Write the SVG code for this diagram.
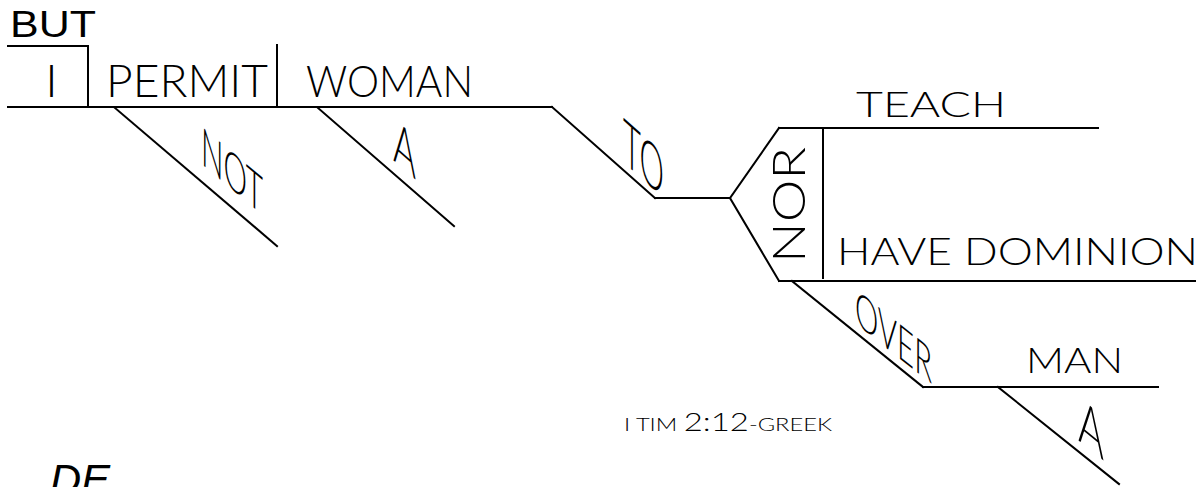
<svg xmlns="http://www.w3.org/2000/svg" width="1204" height="487" viewBox="0 0 1204 487">
<style>
.w{font-family:"Lato","Open Sans","Liberation Sans",sans-serif;font-weight:300;fill:#000}
.a{font-family:"Liberation Sans",Arial,sans-serif;font-weight:400;fill:#000}
.ln line{stroke:#000;stroke-width:2;stroke-linecap:square}
</style>
<rect width="1204" height="487" fill="#fff"/>
<g id="connectors" class="ln">
<line x1="8" y1="107" x2="552" y2="107"/>
<line x1="8" y1="46" x2="88" y2="46"/>
<line x1="88" y1="46" x2="88" y2="107"/>
<line x1="277" y1="45" x2="277" y2="107"/>
<line x1="115" y1="108" x2="277" y2="246"/>
<line x1="318" y1="108" x2="454" y2="226"/>
<line x1="552" y1="107" x2="655" y2="198"/>
<line x1="655" y1="198" x2="730" y2="198"/>
<line x1="730" y1="198" x2="779" y2="128"/>
<line x1="779" y1="128" x2="1098" y2="128"/>
<line x1="730" y1="198" x2="779" y2="281"/>
<line x1="779" y1="281" x2="1195" y2="281"/>
<line x1="823" y1="128" x2="823" y2="278"/>
<line x1="792" y1="281" x2="923" y2="387"/>
<line x1="923" y1="387" x2="1158" y2="387"/>
<line x1="998" y1="387" x2="1119" y2="484"/>
</g>
<g id="but"><text class="a" x="10" y="37" font-size="37" textLength="86" lengthAdjust="spacingAndGlyphs">BUT</text></g>
<g id="i"><text class="w" x="45" y="97" font-size="45" textLength="13" lengthAdjust="spacingAndGlyphs">I</text></g>
<g id="permit"><text class="w" x="106" y="97" font-size="45" textLength="162" lengthAdjust="spacingAndGlyphs">PERMIT</text></g>
<g id="woman"><text class="w" x="306" y="97" font-size="44" textLength="167" lengthAdjust="spacingAndGlyphs">WOMAN</text></g>
<g id="not" transform="translate(201,163.5) skewY(40)"><text class="w" x="0" y="0" font-size="53" textLength="62" lengthAdjust="spacingAndGlyphs">NOT</text></g>
<g id="a1" transform="translate(393,160) skewY(41)"><text class="w" x="0" y="0" font-size="60" textLength="23" lengthAdjust="spacingAndGlyphs">A</text></g>
<g id="to" transform="translate(623,162) skewY(41.5)"><text class="w" x="0" y="0" font-size="63" textLength="41" lengthAdjust="spacingAndGlyphs">TO</text></g>
<g id="nor" transform="translate(805,263) rotate(-90)"><text class="w" x="0" y="0" font-size="46" textLength="116" lengthAdjust="spacingAndGlyphs">NOR</text></g>
<g id="teach"><text class="w" x="856" y="117" font-size="35" textLength="150" lengthAdjust="spacingAndGlyphs">TEACH</text></g>
<g id="have-dominion"><text class="w" x="837" y="265" font-size="37" textLength="361" lengthAdjust="spacingAndGlyphs">HAVE DOMINION</text></g>
<g id="over" transform="translate(855,323) skewY(38.5)"><text class="w" x="0" y="0" font-size="49" textLength="77" lengthAdjust="spacingAndGlyphs">OVER</text></g>
<g id="man"><text class="w" x="1026" y="373" font-size="35.5" textLength="97" lengthAdjust="spacingAndGlyphs">MAN</text></g>
<g id="a2" transform="translate(1078,440) skewY(39)"><text class="w" x="0" y="0" font-size="62" textLength="26" lengthAdjust="spacingAndGlyphs">A</text></g>
<g id="citation"><text class="w" x="624" y="431" font-size="18" textLength="208" lengthAdjust="spacingAndGlyphs">I TIM <tspan font-size="25">2:12</tspan>-GREEK</text></g>
<g id="de"><text class="a" x="50" y="494" font-size="43" font-style="italic" textLength="60" lengthAdjust="spacingAndGlyphs">DE</text></g>
</svg>
